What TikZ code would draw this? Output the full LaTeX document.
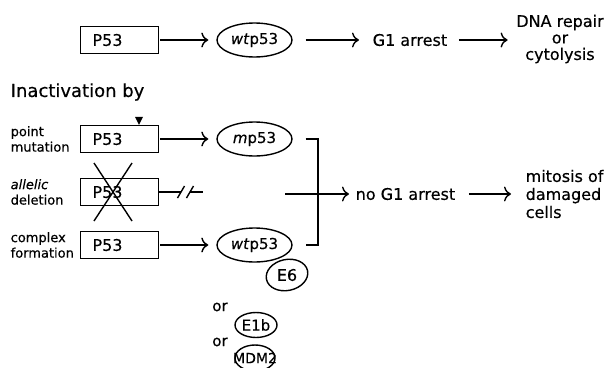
\documentclass[tikz,border=0pt]{standalone}
\usepackage{fontspec}
\setmainfont{DejaVu Sans}[FakeBold=0.4]
\usetikzlibrary{shapes.geometric,arrows.meta}
\newcommand\fsz[2]{\fontsize{#1}{#2}\selectfont}
\begin{document}
\begin{tikzpicture}[x=1pt,y=-1pt,line width=1.4pt,
  genebox/.style={draw, rectangle, minimum width=78pt, minimum height=27pt, text width=54pt, inner xsep=12pt, inner ysep=0pt, align=left, font=\fsz{16}{19}},
  prot/.style={draw, ellipse, minimum width=75pt, minimum height=34pt, inner sep=0pt, font=\fsz{15}{18}},
  smallprot/.style={draw, ellipse, fill=white, inner sep=0pt},
  lbl/.style={font=\fsz{16}{19}, inner sep=0pt},
  side/.style={font=\fsz{13}{15.5}, align=left, anchor=west, inner sep=0pt},
  arr/.style={-{To[length=7pt,width=15pt]}}]
\useasboundingbox (0,0) rectangle (608,367);

% normal pathway
\node[genebox] (g1) at (119.5,40) {P53};
\node[prot] (wt1) at (254.5,40) {\textit{wt}p53};
\node[lbl, anchor=west] (ga) at (372,40) {G1 arrest};
\node[lbl, align=center, font=\fsz{16}{16.5}] (dna) at (560,39) {DNA repair\\or\\cytolysis};
\draw[arr, shorten <=1pt, shorten >=8pt] (g1.east) -- (wt1.west);
\draw[arr, shorten <=13pt, shorten >=13pt] (wt1.east) -- (ga.west);
\draw[arr, shorten <=11pt, shorten >=8pt] (ga.east) -- (ga.east -| dna.west);

\node[font=\fsz{18}{21}, anchor=west, inner sep=0pt] (inact) at (10,92) {Inactivation by};

% point mutation
\node[side] (pm) at (10,139) {point\\mutation};
\node[genebox] (g2) at (119.5,139) {P53};
\node[prot] (mp) at (254.5,139) {\textit{m}p53};
\fill ([xshift=19.5pt]g2.north) -- ++(-4,-8) -- ++(8,0) -- cycle;
\draw[arr, shorten <=1pt, shorten >=8pt] (g2.east) -- (mp.west);

% allelic deletion
\node[side] (ad) at (10,192) {\textit{allelic}\\deletion};
\node[genebox] (g3) at (119.5,192) {P53};
\draw (94,163) -- (132,221);
\draw (132,163) -- (94,221);
\coordinate (s1) at (181,192);
\coordinate (s2) at (190,192);
\coordinate (dz) at (203,192);
\draw (g3.east) -- (s1);
\draw (s2) -- (dz);
\draw ([shift={(-3.5,6)}]s1) -- ([shift={(3.5,-6)}]s1);
\draw ([shift={(-3.5,6)}]s2) -- ([shift={(3.5,-6)}]s2);

% complex formation
\node[side] (cf) at (10,245) {complex\\formation};
\node[genebox] (g4) at (119.5,245) {P53};
\node[prot] (wt2) at (254.5,245) {\textit{wt}p53};
\draw[arr, shorten <=1pt, shorten >=8pt] (g4.east) -- (wt2.west);
\node[smallprot, rotate=12, minimum width=42pt, minimum height=31pt] (e6) at (287,275) {};
\node[lbl] (e6t) at (e6.center) {E6};
\node[lbl, font=\fsz{15}{17}] (or1) at (220,307) {or};
\node[smallprot, minimum width=42pt, minimum height=25pt, font=\fsz{15}{17}] (e1b) at (256,325) {\makebox[0pt]{E1b}};
\node[lbl, font=\fsz{15}{17}] (or2) at (220,342) {or};
\node[smallprot, fill=none, minimum width=40pt, minimum height=26pt, font=\fsz{14}{16}] (mdm) at (255,358) {\makebox[0pt]{MDM2}};

% bracket and outcome
\coordinate (bt) at (318,139);
\coordinate (bb) at (318,245);
\draw[shorten <=13pt, shorten >=13pt] (mp.east) -- (bt) -- (bb) -- (wt2.east);
\coordinate (hs) at (285,194);
\node[lbl, anchor=west] (nog) at (355,194) {no G1 arrest};
\node[font=\fsz{16}{18}, align=left, anchor=west, inner sep=0pt] (mit) at (525,194) {mitosis of\\damaged\\cells};
\draw[arr, shorten >=6pt] (hs) -- (nog.west);
\draw[arr, shorten <=13pt, shorten >=14pt] (nog.east) -- (nog.east -| mit.west);
\end{tikzpicture}
\end{document}
